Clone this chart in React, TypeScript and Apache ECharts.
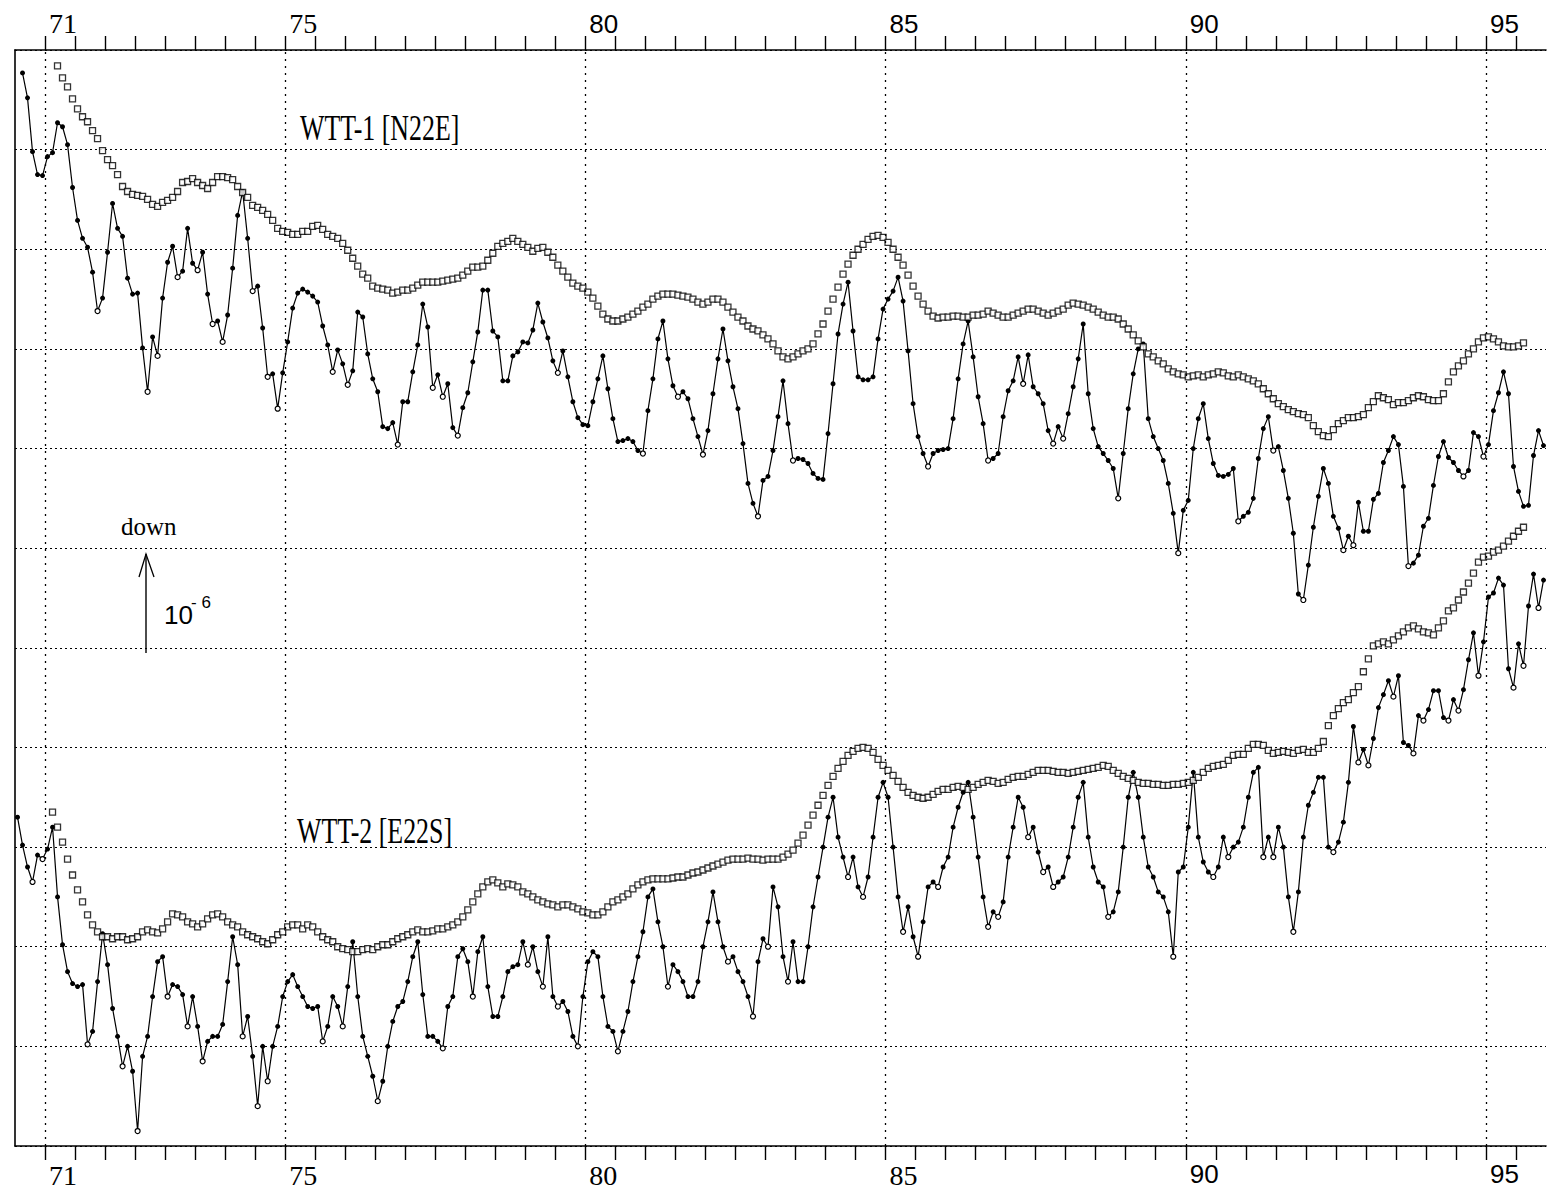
import React, { useEffect, useRef } from "react";
import * as echarts from "echarts";

// ---- data (strain, units of 1e-6, arbitrary offset; y axis 0..11) ----
const WTT1_LINE_START = 70.625; // first monthly reading (decimal year)
const WTT1_SMOOTH_START = 71.208; // first running-mean value
const WTT2_LINE_START = 70.542;
const WTT2_SMOOTH_START = 71.125;
const GRID_YEARS = [71, 75, 80, 85, 90, 95];
const LABEL_YEARS = [71, 75, 80, 85, 90, 95];

const WTT1_LINE = [
  10.77, 10.52, 9.98, 9.75, 9.74, 9.93, 9.97, 10.27, 10.23, 10.05,
  9.62, 9.29, 9.11, 9.02, 8.77, 8.38, 8.51, 8.97, 9.46, 9.21,
  9.13, 8.71, 8.55, 8.56, 8.01, 7.57, 8.12, 7.93, 8.51, 8.87,
  9.03, 8.72, 8.78, 9.21, 8.86, 8.79, 8.97, 8.55, 8.25, 8.28,
  8.07, 8.34, 8.81, 9.34, 9.58, 9.11, 8.58, 8.63, 8.21, 7.72,
  7.75, 7.4, 7.76, 8.07, 8.41, 8.56, 8.6, 8.57, 8.53, 8.47,
  8.23, 8.04, 7.77, 7.99, 7.85, 7.64, 7.78, 8.37, 8.32, 7.95,
  7.7, 7.57, 7.22, 7.2, 7.26, 7.04, 7.47, 7.47, 7.77, 8.04,
  8.45, 8.22, 7.61, 7.74, 7.52, 7.65, 7.21, 7.13, 7.41, 7.56,
  7.87, 8.17, 8.59, 8.59, 8.18, 8.12, 7.68, 7.68, 7.93, 7.97,
  8.07, 8.06, 8.19, 8.46, 8.27, 8.11, 7.88, 7.76, 7.98, 7.72,
  7.47, 7.31, 7.24, 7.23, 7.47, 7.7,
  7.93, 7.6, 7.3, 7.07, 7.08, 7.1, 7.07, 6.98, 6.95, 7.38,
  7.7, 8.1, 8.28, 7.9, 7.63, 7.52, 7.57, 7.5, 7.3, 7.12,
  6.94, 7.18, 7.55, 7.9, 8.2, 7.88, 7.62, 7.4, 7.05, 6.65,
  6.45, 6.32, 6.68, 6.72, 6.98, 7.32, 7.68, 7.25, 6.88, 6.9,
  6.89, 6.85, 6.75, 6.7, 6.69, 7.15, 7.65, 8.15, 8.45, 8.67,
  8.18, 7.72, 7.69, 7.69, 7.72, 8.1, 8.4, 8.5, 8.58, 8.72,
  8.48, 7.98, 7.45, 7.12, 6.95, 6.82, 6.95, 6.98, 6.99, 7.0,
  7.3, 7.7, 8.05, 8.28, 7.92, 7.52, 7.25, 6.88, 6.9, 6.95,
  7.32, 7.58, 7.68, 7.92, 7.65, 7.94, 7.62, 7.55, 7.45, 7.18,
  7.05, 7.22, 7.1, 7.35, 7.62, 7.9, 8.25, 7.55, 7.2, 7.02,
  6.95, 6.88, 6.8, 6.5, 6.95, 7.4, 7.75, 8.0, 8.05, 7.3,
  7.12, 7.0, 6.88, 6.65, 6.35, 5.95, 6.38, 6.48, 7.0, 7.3,
  7.45, 7.1, 6.85, 6.73, 6.72, 6.74, 6.8, 6.27, 6.32, 6.36,
  6.5, 6.9, 7.2, 7.32, 6.98, 7.02, 6.78, 6.5, 6.15, 5.54,
  5.48, 5.83, 6.21, 6.52, 6.8, 6.65, 6.32, 6.2, 5.98, 6.12,
  6.03, 6.46, 6.17, 6.17, 6.49, 6.55, 6.86, 6.98, 7.12, 7.04,
  6.62, 5.82, 5.85, 5.93, 6.22, 6.3, 6.63, 6.92, 7.07, 6.91,
  6.86, 6.78, 6.72, 6.78, 7.16, 7.12, 6.92, 7.04, 7.38, 7.56,
  7.77, 7.55, 6.82, 6.57, 6.42, 6.43, 6.93, 7.18, 7.03,
];

const WTT1_SMOOTH = [
  10.84, 10.72, 10.63, 10.51, 10.41, 10.33, 10.28, 10.19, 10.11, 9.99,
  9.9, 9.84, 9.75, 9.63, 9.58, 9.55, 9.54, 9.53, 9.5, 9.45,
  9.43, 9.47, 9.49, 9.52, 9.58, 9.67, 9.68, 9.71, 9.67, 9.64,
  9.61, 9.67, 9.73, 9.73, 9.72, 9.7, 9.63, 9.57, 9.52, 9.44,
  9.42, 9.39, 9.35, 9.29, 9.21, 9.18, 9.17, 9.15, 9.15, 9.18,
  9.18, 9.23, 9.24, 9.2, 9.15, 9.13, 9.11, 9.06, 8.99, 8.91,
  8.83, 8.75, 8.71, 8.63, 8.61, 8.6, 8.59, 8.56, 8.57, 8.59,
  8.59, 8.61, 8.64, 8.67, 8.67, 8.67, 8.67, 8.68, 8.69, 8.7,
  8.71, 8.74, 8.78, 8.82, 8.82, 8.83, 8.89, 8.96, 9.03, 9.06,
  9.08, 9.11, 9.08, 9.05, 9.02, 8.98, 9.01, 9.02, 8.97, 8.92,
  8.84, 8.78, 8.72, 8.66, 8.63, 8.61, 8.57, 8.51, 8.43,
  8.35, 8.3, 8.28, 8.28, 8.3, 8.32, 8.35, 8.38, 8.42, 8.45,
  8.5, 8.53, 8.55, 8.55, 8.55, 8.54, 8.53, 8.52, 8.5, 8.47,
  8.45, 8.47, 8.5, 8.5, 8.47, 8.42, 8.37, 8.32, 8.28, 8.23,
  8.2, 8.18, 8.14, 8.1, 8.05, 7.98, 7.92, 7.9, 7.92, 7.95,
  7.98, 8.0, 8.05, 8.15, 8.25, 8.38, 8.5, 8.62, 8.75, 8.85,
  8.94, 9.0, 9.05, 9.1, 9.13, 9.14, 9.12, 9.07, 9.0, 8.92,
  8.84, 8.74, 8.63, 8.53, 8.45, 8.38, 8.33, 8.31, 8.32, 8.32,
  8.33, 8.33, 8.32, 8.32, 8.34, 8.34, 8.35, 8.38, 8.36, 8.34,
  8.32, 8.32, 8.34, 8.36, 8.38, 8.4, 8.4, 8.38, 8.36, 8.34,
  8.36, 8.38, 8.4, 8.44, 8.46, 8.45, 8.44, 8.42, 8.4, 8.37,
  8.34, 8.32, 8.32, 8.3, 8.25, 8.2, 8.14, 8.08, 8.02, 7.95,
  7.92, 7.88, 7.85, 7.8, 7.77, 7.75, 7.74, 7.72, 7.73, 7.74,
  7.72, 7.74, 7.75, 7.77, 7.76, 7.73, 7.72, 7.74, 7.72, 7.7,
  7.68, 7.65, 7.6, 7.55, 7.5, 7.45, 7.42, 7.39, 7.37,
  7.35, 7.34, 7.31, 7.23, 7.17, 7.13, 7.12, 7.19, 7.25, 7.28,
  7.31, 7.31, 7.32, 7.34, 7.41, 7.47, 7.53, 7.51, 7.49, 7.44,
  7.46, 7.46, 7.48, 7.51, 7.53, 7.52, 7.49, 7.48, 7.48, 7.55,
  7.67, 7.77, 7.83, 7.88, 7.95, 8.0, 8.07, 8.11, 8.12, 8.1,
  8.07, 8.03, 8.02, 8.02, 8.03, 8.06,
];

const WTT2_LINE = [
  3.3, 3.02, 2.8, 2.65, 2.92, 2.88, 2.98, 3.2, 2.5, 2.02,
  1.75, 1.63, 1.6, 1.62, 1.02, 1.15, 1.65, 2.13, 1.82, 1.38,
  1.1, 0.8, 1.0, 0.75, 0.15, 0.9, 1.1, 1.5, 1.85, 1.9,
  1.5, 1.62, 1.6, 1.52, 1.2, 1.5, 1.2, 0.85, 1.05, 1.1,
  1.1, 1.22, 1.65, 2.1, 1.82, 1.1, 1.3, 0.9, 0.4, 1.0,
  0.65, 1.0, 1.2, 1.5, 1.65, 1.72, 1.6, 1.5, 1.4, 1.38,
  1.4, 1.05, 1.2, 1.5, 1.4, 1.2, 1.6, 2.05, 1.5, 1.1,
  0.9, 0.7, 0.45, 0.65, 1.0, 1.25, 1.4, 1.45, 1.65, 1.9,
  2.05, 1.52, 1.1, 1.1, 1.05, 0.98, 1.4, 1.5, 1.9, 1.98,
  1.85, 1.5, 1.95, 2.1, 1.6, 1.3, 1.3, 1.5, 1.75, 1.8,
  1.82, 2.05, 1.82, 2.0, 1.75, 1.6, 2.1, 1.5, 1.4, 1.45,
  1.35, 1.1, 1.0, 1.5, 1.85, 1.95, 1.9, 1.5, 1.2, 1.15,
  0.95, 1.15, 1.35, 1.65, 1.9, 2.15, 2.5, 2.58, 2.25, 2.0,
  1.6, 1.82, 1.75, 1.65, 1.5, 1.5, 1.65, 2.0, 2.25, 2.55,
  2.25, 2.0, 1.85, 1.9, 1.75, 1.65, 1.5, 1.3, 1.85, 2.08,
  2.0, 2.6, 2.4, 1.9, 1.65, 2.05, 1.65, 1.65, 2.0, 2.4,
  2.7, 3.0, 3.3, 3.5, 3.1, 2.9, 2.7, 2.9, 2.6, 2.5,
  2.7, 3.1, 3.5, 3.65, 3.5, 3.0, 2.5, 2.15, 2.4, 2.1,
  1.9, 2.25, 2.6, 2.65, 2.6, 2.8, 2.9, 3.2, 3.4, 3.55,
  3.65, 3.3, 2.9, 2.5, 2.2, 2.35, 2.3, 2.45, 2.9, 3.2,
  3.5, 3.4, 3.1, 3.2, 2.95, 2.75, 2.8, 2.6, 2.65, 2.7,
  2.9, 3.2, 3.5, 3.65, 3.1, 2.8, 2.65, 2.6, 2.3, 2.35,
  2.55, 3.0, 3.5, 3.75, 3.5, 3.1, 2.8, 2.7, 2.55, 2.5,
  2.35, 1.9, 2.75, 2.8, 3.2, 3.75, 3.1, 2.85, 2.75, 2.7,
  2.8, 3.1, 2.9, 3.0, 3.05, 3.2, 3.5, 3.75, 3.8, 2.9,
  3.1, 2.9, 3.2, 3.0, 2.5, 2.15, 2.55, 3.1, 3.42, 3.55,
  3.7, 3.7, 3.0, 2.95, 3.05, 3.25, 3.65, 4.21, 3.85, 3.98,
  3.82, 4.09, 4.4, 4.53, 4.67, 4.51, 4.72, 4.05, 4.02, 3.94,
  4.32, 4.27, 4.38, 4.57, 4.57, 4.3, 4.27, 4.48, 4.37, 4.58,
  4.88, 5.15, 4.72, 5.06, 5.51, 5.55, 5.7, 5.63, 4.79, 4.6,
  5.04, 4.82, 5.42, 5.74, 5.4, 5.68,
];

const WTT2_SMOOTH = [
  3.35, 3.2, 3.05, 2.88, 2.72, 2.57, 2.45, 2.32, 2.22, 2.15,
  2.1, 2.1, 2.08, 2.1, 2.1, 2.07, 2.08, 2.1, 2.15, 2.17,
  2.15, 2.14, 2.18, 2.25, 2.33, 2.32, 2.3, 2.25, 2.23, 2.2,
  2.23, 2.28, 2.32, 2.33, 2.3, 2.25, 2.22, 2.2, 2.15, 2.12,
  2.1, 2.08, 2.05, 2.03, 2.07, 2.12, 2.15, 2.2, 2.22, 2.22,
  2.18, 2.22, 2.2, 2.15, 2.1, 2.07, 2.05, 2.0, 1.98, 1.97,
  1.95, 1.95, 1.97, 1.98, 1.97, 2.0, 2.02, 2.02, 2.05, 2.08,
  2.1, 2.12, 2.15, 2.17, 2.15, 2.15, 2.16, 2.18, 2.18, 2.2,
  2.22, 2.25, 2.3, 2.37, 2.45, 2.53, 2.6, 2.65, 2.67, 2.64,
  2.6, 2.63, 2.62, 2.6, 2.55, 2.53, 2.5, 2.47, 2.45, 2.43,
  2.42, 2.4, 2.42, 2.42, 2.4, 2.38, 2.35, 2.34, 2.32, 2.32,
  2.35, 2.4, 2.45, 2.47, 2.5, 2.53, 2.58, 2.62, 2.65, 2.67,
  2.68, 2.68, 2.68, 2.68, 2.69, 2.7, 2.7, 2.72, 2.74, 2.75,
  2.77, 2.79, 2.81, 2.83, 2.85, 2.87, 2.88, 2.88, 2.88, 2.89,
  2.88, 2.88, 2.87, 2.88, 2.88, 2.88, 2.9, 2.93, 2.97, 3.04,
  3.12, 3.22, 3.32, 3.42, 3.52, 3.62, 3.71, 3.79, 3.86, 3.92,
  3.96, 3.99, 4.0, 3.99, 3.95, 3.88, 3.82, 3.77, 3.72, 3.66,
  3.6, 3.55, 3.52, 3.5, 3.49, 3.5, 3.53, 3.56, 3.58, 3.58,
  3.6, 3.61, 3.6, 3.58, 3.6, 3.63, 3.65, 3.67, 3.66, 3.64,
  3.65, 3.68, 3.7, 3.71, 3.71, 3.73, 3.75, 3.77, 3.77, 3.77,
  3.76, 3.75, 3.75, 3.74, 3.75, 3.76, 3.77, 3.78, 3.79, 3.8,
  3.82, 3.81, 3.77, 3.74, 3.71, 3.69, 3.67, 3.65, 3.64, 3.64,
  3.63, 3.63, 3.62, 3.62, 3.63, 3.63, 3.64, 3.65, 3.67, 3.7,
  3.75, 3.79, 3.81, 3.82, 3.83, 3.87, 3.92, 3.93, 3.93, 3.99,
  4.03, 4.03, 4.02, 3.97, 3.94, 3.95, 3.96, 3.95, 3.94, 3.97,
  3.98, 3.95, 3.95, 3.99, 4.06, 4.22, 4.32, 4.39, 4.45, 4.48,
  4.55, 4.61, 4.76, 4.89, 5.02, 5.04, 5.06, 5.04, 5.08, 5.12,
  5.16, 5.2, 5.22, 5.19, 5.16, 5.15, 5.13, 5.2, 5.27, 5.37,
  5.4, 5.48, 5.56, 5.65, 5.75, 5.86, 5.91, 5.92, 5.96, 5.98,
  6.02, 6.07, 6.12, 6.17, 6.21,
];

const toPairs = (start: number, vals: number[]) =>
  vals.map((v, i) => [start + i / 12, v]);

// troughs of the monthly curves are drawn as open circles, as in the original plot
const hollowStyle = { color: "#fff", borderColor: "#000", borderWidth: 1.2 };
const monthlyPoints = (start: number, vals: number[]) =>
  vals.map((v, i) => {
    const x = start + i / 12;
    const trough =
      i > 0 && i < vals.length - 1 && v < vals[i - 1] - 0.02 && v < vals[i + 1] - 0.02;
    return trough ? { value: [x, v], itemStyle: hollowStyle, symbolSize: 5 } : [x, v];
  });

const lineSeries = (name: string, start: number, vals: number[]) => ({
  name,
  type: "line",
  data: monthlyPoints(start, vals),
  symbol: "circle",
  symbolSize: 5,
  showSymbol: true,
  itemStyle: { color: "#000" },
  lineStyle: { color: "#000", width: 1.2 },
  z: 3,
});

const smoothSeries = (name: string, start: number, vals: number[]) => ({
  name,
  type: "scatter",
  data: toPairs(start, vals),
  symbol: "rect",
  symbolSize: 6,
  itemStyle: { color: "#fff", borderColor: "#000", borderWidth: 1.3 },
  z: 4,
});

const labelFmt = (serifSet: number[]) => (v: number) => {
  if (!LABEL_YEARS.includes(v)) return "";
  return serifSet.includes(v) ? `{s|${v}}` : `{n|${v}}`;
};

const richStyles = {
  s: { fontFamily: "Liberation Serif", fontSize: 28, color: "#000" },
  n: { fontFamily: "Liberation Sans", fontSize: 26, color: "#000" },
};

function App() {
  const ref = useRef<HTMLDivElement>(null);
  useEffect(() => {
    if (!ref.current) return;
    const chart = echarts.init(ref.current, null, { renderer: "svg" });
    const axisCommon = {
      type: "value",
      min: 70.5,
      max: 96,
      interval: 0.5,
      axisLine: { show: true, onZero: false, lineStyle: { color: "#000", width: 1.6 } },
      axisTick: { show: true, length: 14, lineStyle: { color: "#000", width: 1.4 } },
      splitLine: { show: false },
    };
    const option = {
      animation: false,
      backgroundColor: "#fff",
      grid: { left: 15, right: 3, top: 50, bottom: 39 },
      xAxis: [
        {
          ...axisCommon,
          position: "bottom",
          axisLabel: {
            formatter: labelFmt([71, 75, 80, 85]),
            rich: richStyles,
            align: "left",
            margin: 15,
            padding: [0, 0, 0, 4],
            showMinLabel: false,
            showMaxLabel: false,
          },
        },
        {
          ...axisCommon,
          position: "top",
          axisLabel: {
            formatter: labelFmt([71, 75]),
            rich: richStyles,
            align: "left",
            margin: 13,
            padding: [0, 0, 0, 4],
            showMinLabel: false,
            showMaxLabel: false,
          },
        },
      ],
      yAxis: {
        type: "value",
        min: 0,
        max: 11,
        interval: 1,
        axisLine: { show: true, lineStyle: { color: "#000", width: 1.6 } },
        axisTick: { show: false },
        axisLabel: { show: false },
        splitLine: {
          show: true,
          lineStyle: { color: "#000", width: 1.2, type: [2, 3] },
        },
      },
      series: [
        {
          type: "line",
          data: [],
          silent: true,
          markLine: {
            silent: true,
            symbol: "none",
            label: { show: false },
            lineStyle: { color: "#000", width: 1.3, type: [2, 5] },
            data: GRID_YEARS.map((y) => ({ xAxis: y })),
          },
        },
        lineSeries("WTT-1", WTT1_LINE_START, WTT1_LINE),
        smoothSeries("WTT-1 mean", WTT1_SMOOTH_START, WTT1_SMOOTH),
        lineSeries("WTT-2", WTT2_LINE_START, WTT2_LINE),
        smoothSeries("WTT-2 mean", WTT2_SMOOTH_START, WTT2_SMOOTH),
      ],
      graphic: [
        {
          type: "text",
          x: 300,
          y: 111,
          scaleX: 0.74,
          style: {
            text: "WTT-1 [N22E]",
            fontFamily: "Liberation Serif",
            fontSize: 35,
            fill: "#000",
          },
        },
        {
          type: "text",
          x: 297,
          y: 814,
          scaleX: 0.74,
          style: {
            text: "WTT-2 [E22S]",
            fontFamily: "Liberation Serif",
            fontSize: 35,
            fill: "#000",
          },
        },
        {
          type: "text",
          x: 121,
          y: 514,
          style: { text: "down", fontFamily: "Liberation Serif", fontSize: 25, fill: "#000" },
        },
        {
          type: "text",
          x: 164,
          y: 602,
          style: { text: "10", fontFamily: "Liberation Sans", fontSize: 26, fill: "#000" },
        },
        {
          type: "text",
          x: 191,
          y: 594,
          style: { text: "- 6", fontFamily: "Liberation Sans", fontSize: 17, fill: "#000" },
        },
        {
          type: "line",
          shape: { x1: 146, y1: 653, x2: 146, y2: 554 },
          style: { stroke: "#000", lineWidth: 1.4 },
        },
        {
          type: "polyline",
          shape: { points: [[139, 577], [146, 554], [154, 577]] },
          style: { stroke: "#000", lineWidth: 1.3, fill: "none" },
        },
      ],
    };
    chart.setOption(option as any);
    return () => chart.dispose();
  }, []);
  return (
    <div
      ref={ref}
      style={{ position: "fixed", left: 0, top: 0, width: 1549, height: 1189, background: "#fff" }}
    />
  );
}

export default App;
